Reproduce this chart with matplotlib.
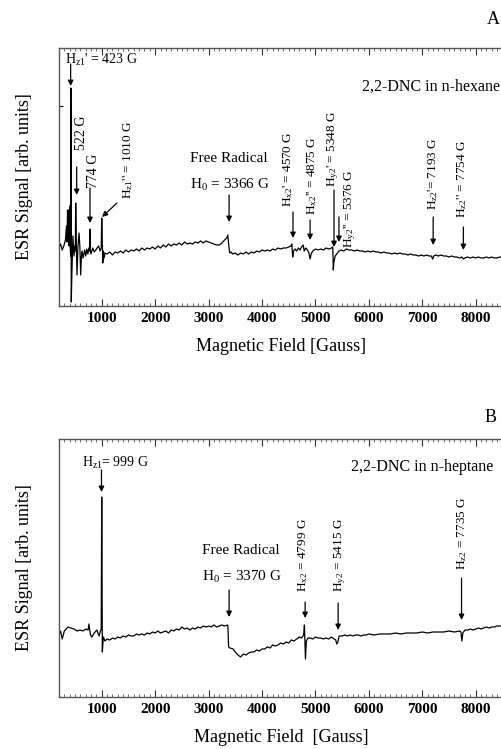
import matplotlib
matplotlib.use("Agg")
import matplotlib.pyplot as plt
from matplotlib.ticker import MultipleLocator

plt.rcParams['font.family'] = ['Liberation Serif', 'DejaVu Serif']
plt.rcParams['mathtext.fontset'] = 'custom'
plt.rcParams['mathtext.rm'] = 'Liberation Serif'
plt.rcParams['mathtext.it'] = 'Liberation Serif'

# ---------------- data: panel A (n-hexane) ----------------
hexane_field = [200, 230, 260, 290, 320, 340, 350, 360, 370, 380, 390, 400, 410, 418, 422, 430, 440,
                460, 480, 500, 505, 513, 525, 537, 555, 575, 590, 606, 620, 631, 650, 680, 700, 720,
                740, 760, 772, 778, 785, 800, 830, 860, 900, 940, 970, 990, 1000, 1012, 1020, 1030,
                1045, 1060, 1100, 1150, 1200, 1250, 1300, 1350, 1400, 1450, 1500, 1550, 1600, 1650,
                1700, 1750, 1800, 1850, 1900, 1950, 2000, 2050, 2100, 2150, 2200, 2250, 2300, 2350,
                2400, 2450, 2500, 2550, 2600, 2650, 2700, 2750, 2800, 2850, 2900, 2950, 3000, 3050,
                3100, 3150, 3200, 3250, 3300, 3340, 3360, 3375, 3395, 3420, 3450, 3500, 3550, 3600,
                3650, 3700, 3750, 3800, 3850, 3900, 3950, 4000, 4050, 4100, 4150, 4200, 4250, 4300,
                4350, 4400, 4450, 4500, 4540, 4558, 4575, 4590, 4620, 4650, 4680, 4710, 4740, 4770,
                4790, 4820, 4850, 4880, 4900, 4920, 4950, 5000, 5050, 5100, 5150, 5200, 5250, 5300,
                5325, 5335, 5345, 5370, 5400, 5440, 5480, 5530, 5580, 5630, 5680, 5730, 5780, 5830,
                5880, 5930, 5980, 6030, 6080, 6130, 6180, 6230, 6280, 6330, 6380, 6430, 6480, 6530,
                6580, 6630, 6680, 6730, 6780, 6830, 6880, 6930, 6980, 7030, 7080, 7130, 7170, 7195,
                7215, 7250, 7300, 7350, 7400, 7450, 7500, 7550, 7600, 7650, 7700, 7740, 7770, 7800,
                7850, 7900, 7950, 8000, 8050, 8100, 8150, 8200, 8250, 8300, 8350, 8400, 8450, 8530]
hexane_signal = [58, 62, 56, 60, 66, 80, 64, 96, 70, 96, 60, 100, 60, 50, 218, 4, 30,
                 70, 50, 60, 55, 103, 60, 31, 60, 73, 60, 31, 50, 55, 48, 56, 50, 57,
                 52, 58, 55, 77, 55, 52, 58, 54, 57, 60, 55, 58, 88, 60, 43, 55,
                 48, 53, 52, 54, 51, 54, 53, 55, 53, 56, 54, 56, 55, 57,
                 55, 58, 56, 58, 57, 59, 57, 60, 58, 61, 59, 62, 60, 62,
                 61, 63, 61, 64, 62, 63, 62, 64, 63, 65, 63, 65, 64, 63,
                 62, 61, 61, 63, 66, 68, 71, 62, 53, 54, 52, 53, 51, 53,
                 52, 54, 52, 54, 53, 55, 54, 56, 55, 56, 55, 57, 56, 58,
                 57, 58, 58, 59, 60, 62, 49, 55, 57, 55, 58, 56, 59, 61,
                 55, 58, 56, 53, 47, 52, 55, 57, 56, 57, 56, 58, 57, 58,
                 59, 36, 44, 50, 52, 55, 56, 55, 57, 56, 56, 55, 56, 55,
                 55, 54, 55, 54, 55, 54, 54, 53, 54, 53, 53, 52, 53, 52,
                 53, 52, 52, 51, 52, 51, 51, 50, 51, 50, 51, 50, 50, 47,
                 50, 51, 50, 51, 50, 50, 49, 50, 49, 49, 48, 49, 47, 48,
                 49, 48, 49, 48, 49, 48, 48, 49, 48, 49, 48, 48, 49, 49]

# ---------------- data: panel B (n-heptane) ----------------
heptane_field = [200, 230, 260, 300, 370, 420, 480, 540, 590, 650, 700, 745, 760, 790, 815, 860,
                 910, 950, 975, 990, 1000, 1011, 1030, 1060, 1100, 1150, 1200, 1250, 1300, 1350,
                 1400, 1450, 1500, 1550, 1600, 1650, 1700, 1750, 1800, 1850, 1900, 1950, 2000,
                 2050, 2100, 2150, 2200, 2250, 2300, 2350, 2400, 2450, 2500, 2550, 2600, 2650,
                 2700, 2750, 2800, 2850, 2900, 2950, 3000, 3050, 3100, 3150, 3200, 3250, 3300,
                 3360, 3375, 3400, 3460, 3500, 3550, 3600, 3650, 3700, 3750, 3800, 3850, 3900,
                 3950, 4000, 4050, 4100, 4150, 4200, 4250, 4300, 4350, 4400, 4450, 4500, 4550,
                 4600, 4650, 4700, 4740, 4780, 4794, 4813, 4830, 4860, 4900, 4950, 5000, 5050,
                 5100, 5150, 5200, 5250, 5300, 5350, 5380, 5400, 5420, 5445, 5500, 5550, 5600,
                 5650, 5700, 5750, 5800, 5850, 5900, 5950, 6000, 6100, 6200, 6300, 6400, 6500,
                 6600, 6700, 6800, 6900, 7000, 7100, 7200, 7300, 7400, 7500, 7600, 7700, 7725,
                 7741, 7760, 7800, 7850, 7900, 7950, 8000, 8050, 8100, 8150, 8200, 8250, 8300,
                 8350, 8400, 8450, 8530]
heptane_signal = [62, 66, 58, 66, 70, 69, 68, 66, 67, 66, 68, 67, 73, 62, 60, 64,
                  67, 61, 66, 68, 200, 45, 60, 56, 58, 57, 59, 58, 60, 59,
                  61, 60, 62, 61, 61, 63, 62, 63, 62, 64, 63, 65, 64,
                  66, 64, 65, 66, 64, 67, 66, 68, 67, 70, 68, 69, 67,
                  69, 68, 70, 69, 71, 70, 71, 70, 72, 70, 71, 72, 71,
                  72, 50, 49, 48, 45, 42, 40, 43, 42, 44, 45, 45, 47,
                  46, 48, 48, 50, 49, 52, 51, 52, 54, 53, 55, 54, 57,
                  56, 58, 60, 59, 62, 72, 38, 56, 59, 59, 58, 60, 59,
                  59, 58, 59, 58, 60, 58, 57, 53, 55, 61, 61, 62, 61,
                  62, 61, 62, 62, 61, 62, 62, 63, 62, 63, 63, 63, 64,
                  63, 64, 64, 64, 65, 64, 65, 65, 65, 66, 65, 66, 65,
                  56, 64, 67, 67, 68, 67, 68, 69, 68, 69, 70, 69, 70,
                  70, 71, 71, 71]

# ---------------- annotation data ----------------
xticks = [1000, 2000, 3000, 4000, 5000, 6000, 7000, 8000]
xlabel_a = "Magnetic Field [Gauss]"
xlabel_b = "Magnetic Field  [Gauss]"
ylabel = "ESR Signal [arb. units]"

W, H = 502, 749
fig = plt.figure(figsize=(W / 100, H / 100), dpi=100)


def make_axes(top_px, bottom_px):
    ax = fig.add_axes([59 / W, (H - bottom_px) / H, 445 / W, (bottom_px - top_px) / H])
    ax.set_xlim(200, 8530)
    ax.set_ylim(0, bottom_px - top_px)
    for s in ['left', 'bottom', 'top']:
        ax.spines[s].set_color('#555555')
        ax.spines[s].set_linewidth(1.0)
    ax.spines['right'].set_visible(False)
    ax.set_xticks(xticks)
    ax.xaxis.set_minor_locator(MultipleLocator(100))
    ax.tick_params(axis='x', which='major', direction='in', length=5, width=0.8,
                   top=True, labelsize=11, pad=4, color='#333333')
    ax.tick_params(axis='x', which='minor', direction='in', length=2.5, width=0.6,
                   top=True, color='#555555')
    for lab in ax.get_xticklabels():
        lab.set_fontweight('bold')
    ax.set_yticks([])
    ax.set_ylabel(ylabel, fontsize=13, labelpad=19)
    return ax


def arrow(ax, x, y_tail, y_tip, x_tail=None):
    if x_tail is None:
        x_tail = x
    ax.annotate('', xy=(x, y_tip), xytext=(x_tail, y_tail),
                arrowprops=dict(arrowstyle='-|>', color='black', lw=0.9,
                                mutation_scale=8, shrinkA=0, shrinkB=0))


def vtext(ax, x, y, s, size=9.5):
    ax.text(x, y, s, rotation=90, ha='center', va='bottom', fontsize=size)


# ---------------- panel A ----------------
axA = make_axes(48, 306)
axA.plot(hexane_field, hexane_signal, color='black', lw=0.9)
axA.set_yticks([200])
axA.tick_params(axis='y', direction='in', length=3, width=0.8, labelleft=False)
axA.set_xlabel(xlabel_a, fontsize=13, labelpad=10)

axA.text(312, 246, r"H$_{\rm z1}$' = 423 G", fontsize=10, ha='left', va='center')
arrow(axA, 418, 242, 220)
vtext(axA, 630, 156, "522 G", 10)
arrow(axA, 531, 139, 111)
vtext(axA, 855, 118, "774 G", 10)
arrow(axA, 780, 118, 83)
vtext(axA, 1490, 107, r"H$_{\rm z1}$'' = 1010 G")
arrow(axA, 1005, 103, 89, x_tail=1285)
axA.text(2653, 147, "Free Radical", fontsize=11, ha='left', va='center')
axA.text(2653, 121, r"H$_{\rm 0}$ = 3366 G", fontsize=11, ha='left', va='center')
arrow(axA, 3384, 111, 84)
vtext(axA, 4486, 99, r"H$_{\rm x2}$' = 4570 G")
arrow(axA, 4580, 94, 68)
vtext(axA, 4935, 91, r"H$_{\rm x2}$'' = 4875 G")
arrow(axA, 4900, 86, 66)
vtext(axA, 5328, 119, r"H$_{\rm y2}$' = 5348 G")
arrow(axA, 5348, 116, 59)
vtext(axA, 5646, 58, r"H$_{\rm y2}$'' = 5376 G")
arrow(axA, 5440, 89, 64)
vtext(axA, 7200, 96, r"H$_{\rm z2}$'= 7193 G")
arrow(axA, 7204, 89, 61)
vtext(axA, 7742, 88, r"H$_{\rm z2}$'' = 7754 G")
arrow(axA, 7770, 79, 56)
axA.text(8453, 219, "2,2-DNC in n-hexane", fontsize=11.5, ha='right', va='center')
fig.text(500 / W, 1 - 20 / H, "A", fontsize=13, ha='right', va='center')

# ---------------- panel B ----------------
axB = make_axes(439, 697)
axB.plot(heptane_field, heptane_signal, color='black', lw=0.9)
axB.set_xlabel(xlabel_b, fontsize=13, labelpad=10)

axB.text(630, 234, r"H$_{\rm z1}$= 999 G", fontsize=10, ha='left', va='center')
arrow(axB, 995, 227, 205)
axB.text(2876, 147, "Free Radical", fontsize=11, ha='left', va='center')
axB.text(2876, 120, r"H$_{\rm 0}$ = 3370 G", fontsize=11, ha='left', va='center')
arrow(axB, 3384, 107, 80)
vtext(axB, 4766, 105, r"H$_{\rm x2}$ = 4799 G")
arrow(axB, 4807, 95, 79)
vtext(axB, 5459, 105, r"H$_{\rm y2}$ = 5415 G")
arrow(axB, 5425, 94, 67)
vtext(axB, 7742, 127, r"H$_{\rm z2}$ = 7735 G")
arrow(axB, 7735, 119, 77)
axB.text(8322, 230, "2,2-DNC in n-heptane", fontsize=11.5, ha='right', va='center')
fig.text(497 / W, 1 - 417 / H, "B", fontsize=13, ha='right', va='center')

fig.savefig("out.png", dpi=100)
